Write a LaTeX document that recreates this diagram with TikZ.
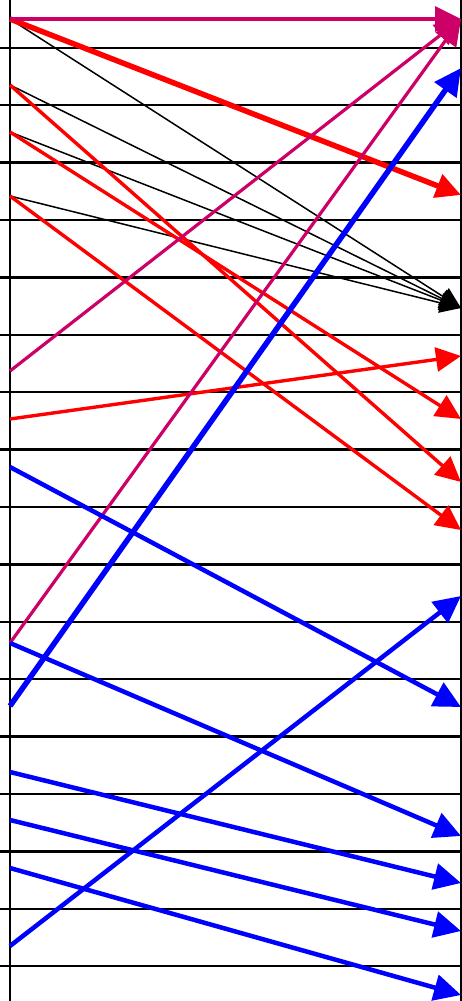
\documentclass[tikz,border=0pt]{standalone}
\usepackage{xcolor}
\usetikzlibrary{arrows.meta}
\definecolor{plum}{RGB}{204,0,102}

\begin{document}
\begin{tikzpicture}[
  x=1pt, y=-1pt,
  rule/.style={line width=2.4pt, black},
  blink/.style={line width=1.5pt, black, -{Triangle[length=21pt, width=20pt]}},
  rlink/.style={line width=3.4pt, red, -{Triangle[length=25pt, width=24pt]}},
  mlink/.style={line width=3.2pt, plum, -{Triangle[length=26pt, width=25pt]}},
  ulink/.style={line width=4.5pt, blue, -{Triangle[length=27pt, width=26pt]}},
  heavy/.style={line width=5.5pt}
]
\useasboundingbox (0,0) rectangle (462,1001);

% rows and the two columns
\foreach \k in {0,...,16}
  \draw[rule] (0,{47.7+57.4*\k}) -- (461,{47.7+57.4*\k});
\draw[rule] (10,0) -- (10,1001);
\draw[rule] (461,0) -- (461,1001);

% left ends
\coordinate (s1) at (10,19);
\coordinate (s2) at (10,85);
\coordinate (s3) at (10,132);
\coordinate (s4) at (10,196);
\coordinate (s5) at (10,371);
\coordinate (s6) at (10,419);
\coordinate (s7) at (10,467);
\coordinate (s8) at (10,643);
\coordinate (s9) at (10,706);
\coordinate (s10) at (10,772);
\coordinate (s11) at (10,820);
\coordinate (s12) at (10,868);
\coordinate (s13) at (10,946);

% right ends
\coordinate (t1) at (461,19);
\coordinate (t2) at (461,68);
\coordinate (t3) at (461,195);
\coordinate (t4) at (461,308);
\coordinate (t5) at (461,356);
\coordinate (t6) at (461,419);
\coordinate (t7) at (461,482);
\coordinate (t8) at (461,530);
\coordinate (t9) at (461,596);
\coordinate (t10) at (461,707);
\coordinate (t11) at (461,836);
\coordinate (t12) at (461,883);
\coordinate (t13) at (461,931);
\coordinate (t14) at (461,995);

\draw[blink] (s1) -- (t4);
\draw[blink] (s2) -- (t4);
\draw[blink] (s3) -- (t4);
\draw[blink] (s4) -- (t4);

\draw[rlink, heavy] (s1) -- (t3);
\draw[rlink] (s2) -- (t7);
\draw[rlink] (s3) -- (t6);
\draw[rlink] (s4) -- (t8);
\draw[rlink] (s6) -- (t5);

\draw[mlink] (s1) -- (t1);
\draw[mlink] (s5) -- (t1);
\draw[mlink] (s8) -- (t1);

\draw[ulink] (s7) -- (t10);
\draw[ulink] (s8) -- (t11);
\draw[ulink, heavy] (s9) -- (t2);
\draw[ulink] (s10) -- (t12);
\draw[ulink] (s11) -- (t13);
\draw[ulink] (s12) -- (t14);
\draw[ulink] (s13) -- (t9);
\end{tikzpicture}
\end{document}
